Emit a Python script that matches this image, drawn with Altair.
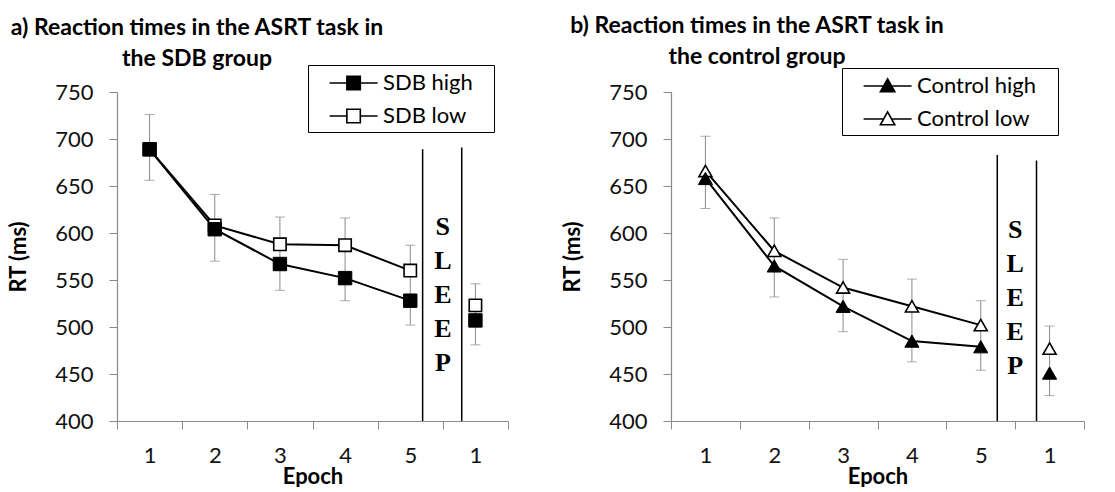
import altair as alt
import pandas as pd

# ---------------- data ----------------
epochs = ["1", "2", "3", "4", "5", "post"]
line_epochs = ["1", "2", "3", "4", "5"]
y_ticks = [400, 450, 500, 550, 600, 650, 700, 750]

sdb_names = ["SDB high", "SDB low"]
sdb_high = [689, 604, 567, 552, 528, 507]
sdb_low = [689, 608, 588, 587, 560, 523]
sdb_err_top = [726, 641, 617, 616, 587, 546]
sdb_err_bottom = [656, 570, 539, 528, 502, 481]
sdb_sleep_tops = [689, 691]
sdb_sleep_first_letter = 606

ctrl_names = ["Control high", "Control low"]
ctrl_high = [658, 565, 522, 485, 479, 451]
ctrl_low = [666, 581, 542, 522, 502, 477]
ctrl_err_top = [703, 616, 572, 551, 528, 501]
ctrl_err_bottom = [626, 532, 495, 463, 454, 427]
ctrl_sleep_tops = [683, 677]
ctrl_sleep_first_letter = 603

sleep_letters = ["S", "L", "E", "E", "P"]

FONT = "Lato"
GRAY = "#8a8a8a"
S = 1.3  # shift of legend glyph (in symbol units)
BLANK = "\u2800"  # blank cell, widens legend box on the right


def f(v):
    return f"{v:.2f}"


def square_paths():
    a, b = 1 + S - 0.56, 1 + S + 0.56
    line = f"M{f(-1 + S)},0H{f(3 + S)}"
    box = f"M{f(a)},-0.56H{f(b)}V0.56H{f(a)}Z"
    return [line + box, f"M{f(-1 + S)},0H{f(a)}M{f(b)},0H{f(3 + S)}" + box]


def triangle_paths():
    c = 1 + S
    tri = f"M{f(c)},-0.6L{f(c + 0.6)},0.48H{f(c - 0.6)}Z"
    return [f"M{f(-1 + S)},0H{f(3 + S)}" + tri,
            f"M{f(-1 + S)},0H{f(c - 0.32)}M{f(c + 0.32)},0H{f(3 + S)}" + tri]


def panel(title_lines, title_dx, title_offset, names, high, low, etop, ebot,
          shape, legend_paths, sleep_tops, sleep_bands, sleep_first, width,
          leg_x, leg_y, mark_size, n_blank):
    pts = pd.DataFrame({
        "epoch": epochs * 2,
        "series": [names[0]] * 6 + [names[1]] * 6,
        "value": high + low,
    })
    err = pd.DataFrame({"epoch": epochs, "etop": etop, "ebot": ebot})
    sleep = pd.DataFrame({"epoch": ["5", "post"], "top": sleep_tops})
    txt = pd.DataFrame({"epoch": ["post"], "first": [sleep_first]})

    xscale = alt.Scale(domain=epochs, paddingInner=0, paddingOuter=0)
    xaxis = alt.Axis(
        title="Epoch", tickBand="extent", labelAngle=0,
        labelExpr="datum.value == 'post' ? '1' : datum.value",
    )
    yscale = alt.Scale(domain=[400, 750], nice=False, zero=False)
    yaxis = alt.Axis(values=y_ticks, title="RT (ms)", grid=False)

    def X(**kw):
        return alt.X("epoch:N", scale=xscale, axis=xaxis, sort=epochs, **kw)

    def Y(field):
        return alt.Y(field, type="quantitative", scale=yscale, axis=yaxis,
                     title="RT (ms)")

    base_err = alt.Chart(err)
    err_rule = base_err.mark_rule(color=GRAY, strokeWidth=1).encode(
        x=X(), y=Y("etop"), y2="ebot")
    cap_top = base_err.mark_tick(color=GRAY, size=10, thickness=1,
                                 orient="horizontal").encode(x=X(), y=Y("etop"))
    cap_bot = base_err.mark_tick(color=GRAY, size=10, thickness=1,
                                 orient="horizontal").encode(x=X(), y=Y("ebot"))

    lines = alt.Chart(pts).transform_filter(
        alt.FieldOneOfPredicate(field="epoch", oneOf=line_epochs)
    ).mark_line(color="black", strokeWidth=2).encode(
        x=X(), y=Y("value"), detail="series:N")

    p_low = alt.Chart(pts).transform_filter(
        alt.FieldEqualPredicate(field="series", equal=names[1])
    ).mark_point(shape=shape, fill="white", stroke="black", strokeWidth=1.6,
                 size=mark_size * 0.85, opacity=1, filled=False).encode(
        x=X(), y=Y("value"))
    p_high = alt.Chart(pts).transform_filter(
        alt.FieldEqualPredicate(field="series", equal=names[0])
    ).mark_point(shape=shape, fill="black", stroke="black", strokeWidth=1,
                 size=mark_size, opacity=1, filled=True).encode(
        x=X(), y=Y("value"))

    s1 = alt.Chart(sleep).transform_filter(
        alt.FieldEqualPredicate(field="epoch", equal="5")
    ).mark_rule(color="black", strokeWidth=1.5).encode(
        x=X(bandPosition=sleep_bands[0]), y=Y("top"), y2=alt.datum(400))
    s2 = alt.Chart(sleep).transform_filter(
        alt.FieldEqualPredicate(field="epoch", equal="post")
    ).mark_rule(color="black", strokeWidth=1.5).encode(
        x=X(bandPosition=sleep_bands[1]), y=Y("top"), y2=alt.datum(400))

    stext = alt.Chart(txt).mark_text(
        text=sleep_letters, font="Liberation Serif", fontSize=26,
        fontWeight="bold", lineHeight=34, baseline="middle", align="center",
        color="black",
    ).encode(x=X(bandPosition=0), y=Y("first"))

    leg = alt.Legend(
        title=None, orient="none", legendX=leg_x, legendY=leg_y,
        strokeColor="black", padding=5, labelFont=FONT, labelFontSize=22,
        labelColor="black", symbolSize=576, symbolStrokeColor="black",
        symbolStrokeWidth=1.6, labelOffset=44, rowPadding=9,
        symbolOpacity=1, labelExpr="datum.label + '" + BLANK * n_blank + "'",
    )
    legend_layer = alt.Chart(pts).transform_filter("false").mark_point(
        filled=True, stroke="black", strokeWidth=1.6, size=576, opacity=1,
    ).encode(
        x=X(), y=Y("value"),
        shape=alt.Shape("series:N", scale=alt.Scale(domain=names, range=legend_paths), legend=leg),
        fill=alt.Fill("series:N", scale=alt.Scale(domain=names, range=["black", "white"]), legend=leg),
        stroke=alt.Stroke("series:N", scale=alt.Scale(domain=names, range=["black", "black"]), legend=leg),
    )

    return alt.layer(
        err_rule, cap_top, cap_bot, lines, p_low, p_high, s1, s2, stext, legend_layer
    ).properties(
        width=width, height=329,
        title=alt.TitleParams(
            text=title_lines, anchor="start", align="center", dx=title_dx,
            frame="group", font=FONT, fontSize=23, fontWeight="bold",
            lineHeight=31, color="black", offset=title_offset,
        ),
    )


left = panel(["a) Reaction times in the ASRT task in", "the SDB group"], 80, -6,
             sdb_names, sdb_high, sdb_low, sdb_err_top, sdb_err_bottom,
             "square", square_paths(), sdb_sleep_tops, [0.69, 0.29],
             sdb_sleep_first_letter, 391, 191, -27, 180, 1)
right = panel(["b) Reaction times in the ASRT task in", "the control group"], 86, -1,
              ctrl_names, ctrl_high, ctrl_low, ctrl_err_top, ctrl_err_bottom,
              "triangle-up", triangle_paths(), ctrl_sleep_tops, [0.74, 0.31],
              ctrl_sleep_first_letter, 413, 171, -24, 200, 1)

chart = alt.hconcat(left, right, spacing=52).resolve_scale(
    shape="independent", fill="independent", stroke="independent"
).properties(
    padding={"left": 7, "top": 14, "right": 0, "bottom": 0},
).configure_view(stroke=None).configure_axis(
    domainColor=GRAY, tickColor=GRAY, tickSize=8, labelFont=FONT,
    labelFontSize=22, labelColor="#111", titleFont=FONT, titleFontSize=22,
    titleFontWeight="bold", titleColor="black", labelPadding=16, domainWidth=1.2,
).configure_axisX(titlePadding=0).configure_axisY(titlePadding=24)

chart.save("out.html", embed_options={"renderer": "svg", "actions": False})
